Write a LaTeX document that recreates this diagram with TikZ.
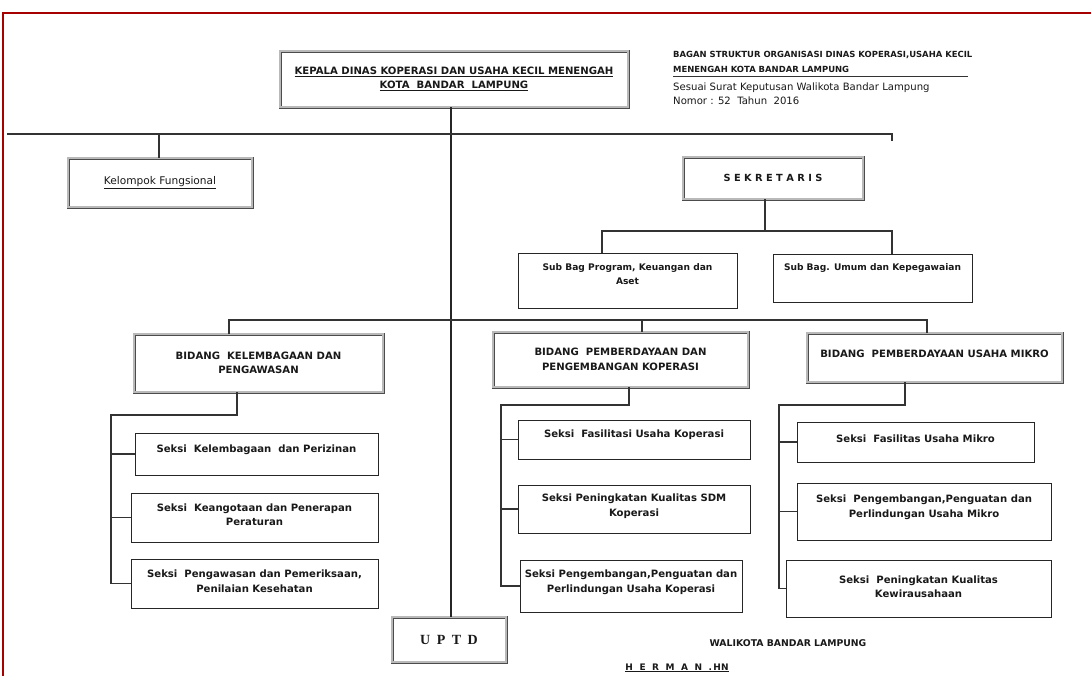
\documentclass[tikz,border=0pt]{standalone}
\usepackage{fontspec}
\setmainfont{DejaVu Sans}
\newfontfamily\serifb{Liberation Serif}
\usetikzlibrary{calc}
\newcommand\bx{\fontsize{10.1}{14.5}\selectfont\bfseries}
\newcommand\bxs{\fontsize{9.1}{14.5}\selectfont\bfseries}
\newcommand\hdr{\fontsize{8.45}{10}\selectfont\bfseries}
\newcommand\sml{\fontsize{10.1}{12}\selectfont}
\newcommand\gp{\hspace{6.5pt}}
\begin{document}
\begin{tikzpicture}[x=1pt,y=-1pt,
  dbox/.style={draw=black!70, line width=0.8pt, double=gray!55, double distance=1.4pt, inner sep=0pt, align=center, font=\bx, text=black!90},
  sbox/.style={draw=black!85, line width=0.9pt, inner sep=0pt, align=center, font=\bx, text=black!90},
  conn/.style={draw=black!80, line width=1.4pt},
  mainline/.style={draw=black!85, line width=2.6pt},
  txt/.style={inner sep=0pt, text=black!90}]
\useasboundingbox (0,0) rectangle (1091,675);
\fill[white] (0,0) rectangle (1091,675);
\draw[red!65!black, line width=1.2pt] (3,676) -- (3,13) -- (1092,13);

% header texts
\node[txt, anchor=west, font=\hdr] (h1) at (673,55) {BAGAN STRUKTUR ORGANISASI DINAS KOPERASI,USAHA KECIL};
\node[txt, anchor=west, font=\hdr] (h2) at (673,69) {MENENGAH KOTA BANDAR LAMPUNG};
\draw[black!80, line width=0.8pt] (673,76) -- (968,76);
\node[txt, anchor=west, font=\sml] (h3) at (673,88) {Sesuai Surat Keputusan Walikota Bandar Lampung};
\node[txt, anchor=west, font=\sml] (h4) at (673,101) {Nomor : 52~~Tahun~~2016};

% top boxes
\node[dbox, minimum width=348pt, minimum height=56pt] (kepala) at (454,79)
  {\underline{KEPALA DINAS KOPERASI DAN USAHA KECIL MENENGAH}\\\underline{KOTA\ \ BANDAR\ \ LAMPUNG}};
\node[dbox, minimum width=184pt, minimum height=49pt, font=\fontsize{10.6}{12}\selectfont] (kel) at (160,182.5) {\underline{Kelompok Fungsional}};
\node[dbox, minimum width=180pt, minimum height=42pt, font=\fontsize{9.8}{11}\selectfont\bfseries] (sek) at (773,178) {S E K R E T A R I S};

\node[sbox, minimum width=219pt, minimum height=55pt,
  label={[font=\bxs, align=center, yshift=6.5pt, text=black!90]center:Sub Bag Program, Keuangan dan\\Aset}] (sbp) at (627.5,280.5) {};
\node[sbox, minimum width=199pt, minimum height=48pt,
  label={[font=\bxs, yshift=10pt, text=black!90]center:Sub Bag. Umum dan Kepegawaian}] (sbu) at (872.5,278) {};

% bidang
\node[dbox, minimum width=249pt, minimum height=58pt] (bk) at (258.5,363) {BIDANG\ \ KELEMBAGAAN DAN\\PENGAWASAN};
\node[dbox, minimum width=255pt, minimum height=55pt] (bpk) at (620.5,359.5) {BIDANG\ \ PEMBERDAYAAN DAN\\PENGEMBANGAN KOPERASI};
\node[dbox, minimum width=255pt, minimum height=49pt,
  label={[font=\bx, yshift=4pt, text=black!90]center:BIDANG\ \ PEMBERDAYAAN USAHA MIKRO}] (bum) at (934.5,357.5) {};

% seksi left
\node[sbox, minimum width=243pt, minimum height=42pt,
  label={[font=\bx, yshift=4pt, text=black!90]center:Seksi\ \ Kelembagaan\ \ dan Perizinan}] (s1) at (256.5,454) {};
\node[sbox, minimum width=247pt, minimum height=49pt,
  label={[font=\bx, align=center, yshift=3pt, text=black!90]center:Seksi\ \ Keangotaan dan Penerapan\\Peraturan}] (s2) at (254.5,517.5) {};
\node[sbox, minimum width=247pt, minimum height=49pt,
  label={[font=\bx, align=center, yshift=2.5pt, text=black!90]center:Seksi\ \ Pengawasan dan Pemeriksaan,\\Penilaian Kesehatan}] (s3) at (254.5,583.5) {};

% seksi middle
\node[sbox, minimum width=232pt, minimum height=39pt,
  label={[font=\bx, yshift=4.5pt, text=black!90]center:Seksi\ \ Fasilitasi Usaha Koperasi}] (m1) at (634,439.5) {};
\node[sbox, minimum width=232pt, minimum height=48pt,
  label={[font=\bx, align=center, yshift=3pt, text=black!90]center:Seksi Peningkatan Kualitas SDM\\Koperasi}] (m2) at (634,509) {};
\node[sbox, minimum width=222pt, minimum height=52pt,
  label={[font=\bx, align=center, yshift=4pt, text=black!90]center:Seksi Pengembangan,Penguatan dan\\Perlindungan Usaha Koperasi}] (m3) at (631,586) {};

% seksi right
\node[sbox, minimum width=237pt, minimum height=40pt,
  label={[font=\bx, yshift=3pt, text=black!90]center:Seksi\ \ Fasilitas Usaha Mikro}] (r1) at (915.5,442) {};
\node[sbox, minimum width=254pt, minimum height=57pt,
  label={[font=\bx, align=center, yshift=4.5pt, text=black!90]center:Seksi\ \ Pengembangan,Penguatan dan\\Perlindungan Usaha Mikro}] (r2) at (924,511.5) {};
\node[sbox, minimum width=265pt, minimum height=57pt,
  label={[font=\bx, align=center, yshift=2pt, text=black!90]center:Seksi\ \ Peningkatan Kualitas\\Kewirausahaan}] (r3) at (918.5,588.5) {};

% UPTD
\node[dbox, minimum width=114pt, minimum height=45pt, font=\serifb\bfseries\fontsize{14}{16}\selectfont] (uptd) at (449,639.5) {U\gp P\gp T\gp D};

% signature
\node[txt, font=\fontsize{9.3}{11}\selectfont\bfseries] (wali) at (788,643) {WALIKOTA BANDAR LAMPUNG};
\node[txt, font=\fontsize{9}{11}\selectfont\bfseries] (herman) at (677,668) {\underline{H\gp E\gp R\gp M\gp A\gp N\gp .\,HN}};

% connectors
\coordinate (lft) at (7,134);
\draw[mainline] (kepala.south -| 451,0) -- (uptd.north -| 451,0);
\draw[conn] (lft) -- (892,134) -- (892,141);
\draw[conn] (kel.north -| 159,0) -- (159,134);
\draw[conn] (sek.south -| 765,0) -- (765,231);
\draw[conn] (sbp.north -| 602,0) -- (602,231) -- (892,231) -- (sbu.north -| 892,0);
\draw[conn] (bk.north -| 229,0) -- (229,320) -- (927,320) -- (bum.north -| 927,0);
\draw[conn] (642,320) -- (bpk.north -| 642,0);

\draw[conn] (bk.south -| 237,0) -- (237,415) -| (s3.west -| 111,0) -- (s3.west);
\draw[conn] (s1.west -| 111,0) -- (s1.west);
\draw[conn] (s2.west -| 111,0) -- (s2.west);

\draw[conn] (bpk.south -| 629,0) -- (629,405) -| (m3.west -| 501,0) -- (m3.west);
\draw[conn] (m1.west -| 501,0) -- (m1.west);
\draw[conn] (m2.west -| 501,0) -- (m2.west);

\draw[conn] (bum.south -| 905,0) -- (905,405) -| (r3.west -| 779,0) -- (r3.west);
\draw[conn] (r1.west -| 779,0) -- (r1.west);
\draw[conn] (r2.west -| 779,0) -- (r2.west);
\end{tikzpicture}
\end{document}
